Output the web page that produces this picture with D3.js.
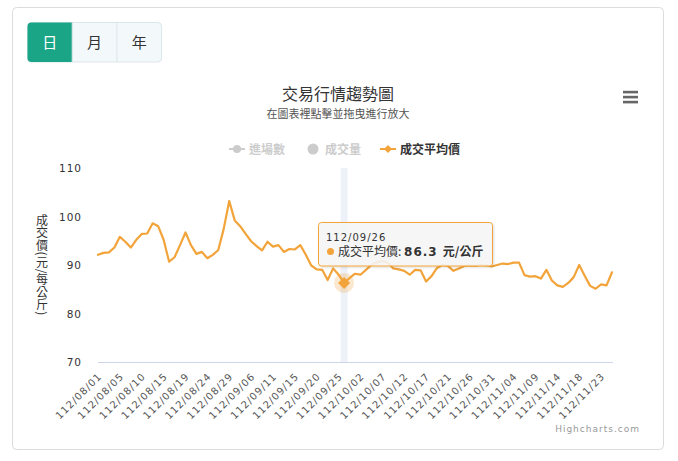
<!DOCTYPE html>
<html>
<head>
<meta charset="utf-8">
<script src="https://cdn.jsdelivr.net/npm/d3@7"></script>
<style>
  html, body { margin: 0; padding: 0; background: #fff; }
  svg { display: block; }
  .cjk { font-family: "Noto Sans CJK TC", "Noto Sans CJK SC", sans-serif; }
  .num { font-family: "DejaVu Sans", Verdana, sans-serif; }
</style>
</head>
<body>
<svg id="chart" width="678" height="461"></svg>
<script>
// ---------- data ----------
const categories = [
  "112/08/01","112/08/02","112/08/03","112/08/04","112/08/05",
  "112/08/07","112/08/08","112/08/09","112/08/10",
  "112/08/11","112/08/12","112/08/14","112/08/15",
  "112/08/16","112/08/17","112/08/18","112/08/19",
  "112/08/21","112/08/22","112/08/23","112/08/24",
  "112/08/25","112/08/26","112/08/28","112/08/29",
  "112/08/30","112/08/31","112/09/01","112/09/06",
  "112/09/07","112/09/08","112/09/09","112/09/11",
  "112/09/12","112/09/13","112/09/14","112/09/15",
  "112/09/16","112/09/18","112/09/19","112/09/20",
  "112/09/21","112/09/22","112/09/23","112/09/25",
  "112/09/26","112/09/27","112/09/28","112/10/02",
  "112/10/03","112/10/04","112/10/05","112/10/07",
  "112/10/09","112/10/10","112/10/11","112/10/12",
  "112/10/13","112/10/14","112/10/16","112/10/17",
  "112/10/18","112/10/19","112/10/20","112/10/21",
  "112/10/23","112/10/24","112/10/25","112/10/26",
  "112/10/27","112/10/28","112/10/30","112/10/31",
  "112/11/01","112/11/02","112/11/03","112/11/04",
  "112/11/06","112/11/07","112/11/08","112/11/09",
  "112/11/10","112/11/11","112/11/13","112/11/14",
  "112/11/15","112/11/16","112/11/17","112/11/18",
  "112/11/20","112/11/21","112/11/22","112/11/23",
  "112/11/24","112/11/25"
];
const avgPrice = [
  92.1, 92.5, 92.6, 93.6, 95.8,
  94.8, 93.6, 95.2, 96.4,
  96.5, 98.6, 98.0, 95.2,
  90.7, 91.6, 94.1, 96.7,
  94.1, 92.3, 92.7, 91.4,
  92.1, 93.1, 97.5, 103.2,
  99.2, 98.0, 96.4, 94.9,
  93.9, 93.0, 94.8, 93.8,
  94.1, 92.7, 93.3, 93.2,
  94.1, 92.1, 89.9, 89.1,
  89.0, 86.9, 89.3, 88.0,
  86.3, 87.3, 88.2, 88.0,
  89.0, 90.0, 90.6, 90.8,
  90.5, 89.3, 89.1, 88.8,
  88.0, 89.0, 88.9, 86.6,
  87.7, 89.4, 90.0, 89.8,
  88.8, 89.3, 89.8, 89.9,
  89.8, 90.0, 89.9, 89.7,
  90.0, 90.3, 90.2, 90.5,
  90.5, 87.9, 87.6, 87.7,
  87.2, 89.0, 86.8, 85.8,
  85.5, 86.3, 87.5, 90.0,
  87.8, 85.7, 85.1, 86.0,
  85.8, 88.5
];
const yTicks = [70, 80, 90, 100, 110];
const legendItems = ["進場數", "成交量", "成交平均價"];
const buttons = ["日", "月", "年"];
const titleText = "交易行情趨勢圖";
const subtitleText = "在圖表裡點擊並拖曳進行放大";
const yAxisTitle = "成交價(元/每公斤)";
const seriesName = "成交平均價";
const unit = "元/公斤";
const hoverIndex = 45;

// ---------- setup ----------
const color = "#f2a43a";
const svg = d3.select("#chart");
const plot = { left: 98, right: 612, top: 168, bottom: 362 };

// card
svg.append("rect").attr("x", 12.5).attr("y", 7.5).attr("width", 651).attr("height", 442)
  .attr("rx", 4).attr("fill", "#fff").attr("stroke", "#dcdcdc");

// buttons
const bx = 27.5, by = 22.5, bw = 44.7, bh = 39.5;
const bg = svg.append("g");
bg.append("rect").attr("x", bx).attr("y", by).attr("width", bw * 3).attr("height", bh)
  .attr("rx", 4).attr("fill", "#f3f9fb").attr("stroke", "#dbe5ea");
bg.append("path")
  .attr("d", `M${bx + 4},${by} H${bx + bw} V${by + bh} H${bx + 4} A4,4 0 0 1 ${bx},${by + bh - 4} V${by + 4} A4,4 0 0 1 ${bx + 4},${by} Z`)
  .attr("fill", "#1ba587");
[1, 2].forEach(i => bg.append("line").attr("x1", bx + bw * i).attr("x2", bx + bw * i)
  .attr("y1", by).attr("y2", by + bh).attr("stroke", "#dbe5ea"));
buttons.forEach((b, i) => {
  bg.append("text").attr("class", "cjk").attr("x", bx + bw * i + bw / 2).attr("y", by + bh / 2 + 5.5)
    .attr("text-anchor", "middle").attr("font-size", 15)
    .attr("fill", i === 0 ? "#fff" : "#333").text(b);
});

// title
svg.append("text").attr("class", "cjk").attr("x", 338).attr("y", 99.5).attr("text-anchor", "middle")
  .attr("font-size", 16).attr("fill", "#333").text(titleText);
svg.append("text").attr("class", "cjk").attr("x", 338).attr("y", 117.5).attr("text-anchor", "middle")
  .attr("font-size", 11).attr("fill", "#555").text(subtitleText);

// hamburger
[92, 97, 102].forEach(y => svg.append("rect").attr("x", 623).attr("y", y - 1.2)
  .attr("width", 15).attr("height", 2.6).attr("fill", "#666"));

// legend
const lg = svg.append("g").attr("class", "cjk").attr("font-size", 12).attr("font-weight", "bold");
lg.append("line").attr("x1", 229).attr("x2", 245).attr("y1", 149).attr("y2", 149).attr("stroke", "#ccc").attr("stroke-width", 2);
lg.append("circle").attr("cx", 237).attr("cy", 149).attr("r", 4).attr("fill", "#ccc");
lg.append("text").attr("x", 249).attr("y", 153.5).attr("fill", "#ccc").text(legendItems[0]);
lg.append("circle").attr("cx", 313).attr("cy", 149).attr("r", 5.5).attr("fill", "#ccc");
lg.append("text").attr("x", 325).attr("y", 153.5).attr("fill", "#ccc").text(legendItems[1]);
lg.append("line").attr("x1", 380).attr("x2", 396).attr("y1", 149).attr("y2", 149).attr("stroke", color).attr("stroke-width", 2);
lg.append("path").attr("d", "M388,145 L392,149 L388,153 L384,149 Z").attr("fill", color);
lg.append("text").attr("x", 400).attr("y", 153.5).attr("fill", "#333").text(legendItems[2]);

// scales
const x = d3.scalePoint().domain(categories).range([plot.left, plot.right]);
const y = d3.scaleLinear().domain([70, 110]).range([plot.bottom, plot.top]);

// crosshair band
const hx = x(categories[hoverIndex]);
svg.append("rect").attr("x", hx - 3.5).attr("y", plot.top).attr("width", 7)
  .attr("height", plot.bottom - plot.top).attr("fill", "rgba(204,214,235,0.35)");

// y axis labels
const yAxis = d3.axisLeft(y).tickValues(yTicks).tickSize(0).tickPadding(0);
const yg = svg.append("g").attr("transform", "translate(82,0)").call(yAxis);
yg.select(".domain").remove();
yg.selectAll("text").attr("class", "num").attr("font-size", 10.5).attr("fill", "#333")
  .attr("letter-spacing", 1).attr("font-family", null).attr("dy", "0.35em").attr("x", 0);

// y axis title (vertical)
svg.append("text").attr("class", "cjk").attr("x", 42).attr("y", 265)
  .attr("text-anchor", "middle").attr("font-size", 12).attr("fill", "#333")
  .attr("letter-spacing", 0.5)
  .style("writing-mode", "vertical-rl").text(yAxisTitle);

// x axis
const xTickVals = categories.filter((d, i) => i % 4 === 0);
const xAxis = d3.axisBottom(x).tickValues(xTickVals).tickSize(0).tickPadding(0);
const xg = svg.append("g").attr("transform", `translate(0,${plot.bottom})`).call(xAxis);
xg.select(".domain").attr("stroke", "#ccd6eb").attr("d", `M${plot.left},0.5H${plot.right + 1}`);
xg.selectAll("text").attr("class", "num").attr("font-family", null).attr("font-size", 10)
  .attr("fill", "#555").attr("letter-spacing", 1)
  .attr("text-anchor", "end").attr("y", 0).attr("dy", 0).attr("x", 0)
  .attr("transform", "translate(4,15) rotate(-45)");

// line
const line = d3.line().x((d, i) => x(categories[i])).y(d => y(d));
svg.append("path").datum(avgPrice).attr("d", line).attr("fill", "none")
  .attr("stroke", color).attr("stroke-width", 2.2).attr("stroke-linejoin", "round").attr("stroke-linecap", "round");

// hover marker
const hy = y(avgPrice[hoverIndex]);
svg.append("circle").attr("cx", hx).attr("cy", hy).attr("r", 10).attr("fill", color).attr("opacity", 0.25);
svg.append("path").attr("d", `M${hx},${hy - 6} L${hx + 6},${hy} L${hx},${hy + 6} L${hx - 6},${hy} Z`).attr("fill", color);

// tooltip
const defs = svg.append("defs");
const f = defs.append("filter").attr("id", "sh").attr("x", "-10%").attr("y", "-20%").attr("width", "130%").attr("height", "150%");
f.append("feDropShadow").attr("dx", 1).attr("dy", 1).attr("stdDeviation", 1.2).attr("flood-color", "#000").attr("flood-opacity", 0.15);
const tt = svg.append("g");
tt.append("rect").attr("x", 318.5).attr("y", 222.5).attr("width", 174).attr("height", 43.5).attr("rx", 3)
  .attr("fill", "rgba(247,247,247,0.88)").attr("stroke", color).attr("filter", "url(#sh)");
tt.append("text").attr("class", "num").attr("x", 326).attr("y", 241).attr("font-size", 10)
  .attr("letter-spacing", 1).attr("fill", "#333").text(categories[hoverIndex]);
tt.append("circle").attr("cx", 330.5).attr("cy", 251.5).attr("r", 3.5).attr("fill", color);
const t2 = tt.append("text").attr("x", 338).attr("y", 256).attr("font-size", 12).attr("fill", "#333");
t2.append("tspan").attr("class", "cjk").text(seriesName + ": ");
t2.append("tspan").attr("class", "num").attr("font-weight", "bold").attr("letter-spacing", 1).text(avgPrice[hoverIndex].toFixed(1) + " ");
t2.append("tspan").attr("class", "cjk").attr("font-weight", "bold").text(unit);

// credits
svg.append("text").attr("class", "num").attr("x", 640).attr("y", 432).attr("text-anchor", "end")
  .attr("font-size", 9).attr("letter-spacing", 1).attr("fill", "#999").text("Highcharts.com");
</script>
</body>
</html>
